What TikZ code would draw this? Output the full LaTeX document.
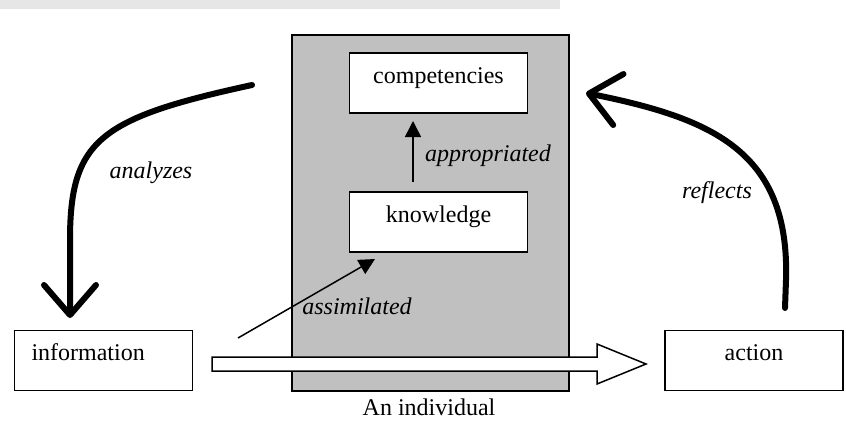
\documentclass[tikz,border=0pt]{standalone}
\usepackage{fontspec}
\setmainfont{Liberation Serif}
\usetikzlibrary{arrows.meta}
\definecolor{bandgray}{HTML}{E6E6E6}
\definecolor{boxgray}{HTML}{C0C0C0}
\begin{document}
\begin{tikzpicture}[x=1pt,y=-1pt,
  font=\fontsize{24}{28}\selectfont,
  box/.style={draw, line width=1.6pt, fill=white, inner sep=0pt,
    minimum width=178pt, minimum height=60pt, text depth=17pt, text height=17pt},
  lab/.style={font=\fontsize{24}{28}\selectfont\itshape},
  thin/.style={line width=1.5pt, -{Triangle[length=16pt,width=16pt]}},
  bigcurve/.style={line width=6pt, line cap=round, line join=round,
    -{Straight Barb[length=30pt,width=52pt,round]}}]
\useasboundingbox (0,0) rectangle (846,436);
\fill[bandgray] (0,0) rectangle (560,9);
% individual
\node[draw, line width=1.6pt, fill=boxgray, inner sep=0pt, minimum width=277pt,
  minimum height=356pt, anchor=north west] (indiv) at (291,34) {};
\node[anchor=north] (indivlab) at (429,395) {An individual};
% boxes
\node[box] (comp) at (438.5,83) {competencies};
\node[box] (know) at (438.5,222) {knowledge};
\node[box, text width=144pt, align=left, inner xsep=17pt] (info) at (103.5,360.5) {information};
\node[box] (act) at (754,360.5) {action};
% appropriated
\coordinate (apS) at (413,182);
\coordinate (apE) at (413,121);
\draw[thin] (apS) -- (apE);
\node[lab] (aplab) at (488,156) {appropriated};
% assimilated
\coordinate (asS) at (238,338);
\coordinate (asE) at (375,259);
\draw[thin] (asS) -- (asE);
\node[lab] (aslab) at (357,306) {assimilated};
% hollow arrow
\coordinate (hS) at (212,364);
\coordinate (hT) at (646,364);
\draw[line width=1.5pt, fill=white, line join=miter]
  (hS) ++(0,-7) -- (597,357) -- (597,344) -- (hT) -- (597,384) -- (597,371) -- (212,371) -- cycle;
% analyzes
\coordinate (anS) at (252,85);
\coordinate (anE) at (70,318);
\draw[bigcurve] (anS) .. controls (100,118) and (70,140) .. (70,240) -- (anE);
\node[lab] (anlab) at (151,173) {analyzes};
% reflects
\coordinate (reS) at (785,308);
\coordinate (reE) at (586,93);
\draw[bigcurve] (reS) -- (786,280) .. controls (790,150) and (710,118) .. (reE);
\node[lab] (relab) at (717,193) {reflects};
\end{tikzpicture}
\end{document}
